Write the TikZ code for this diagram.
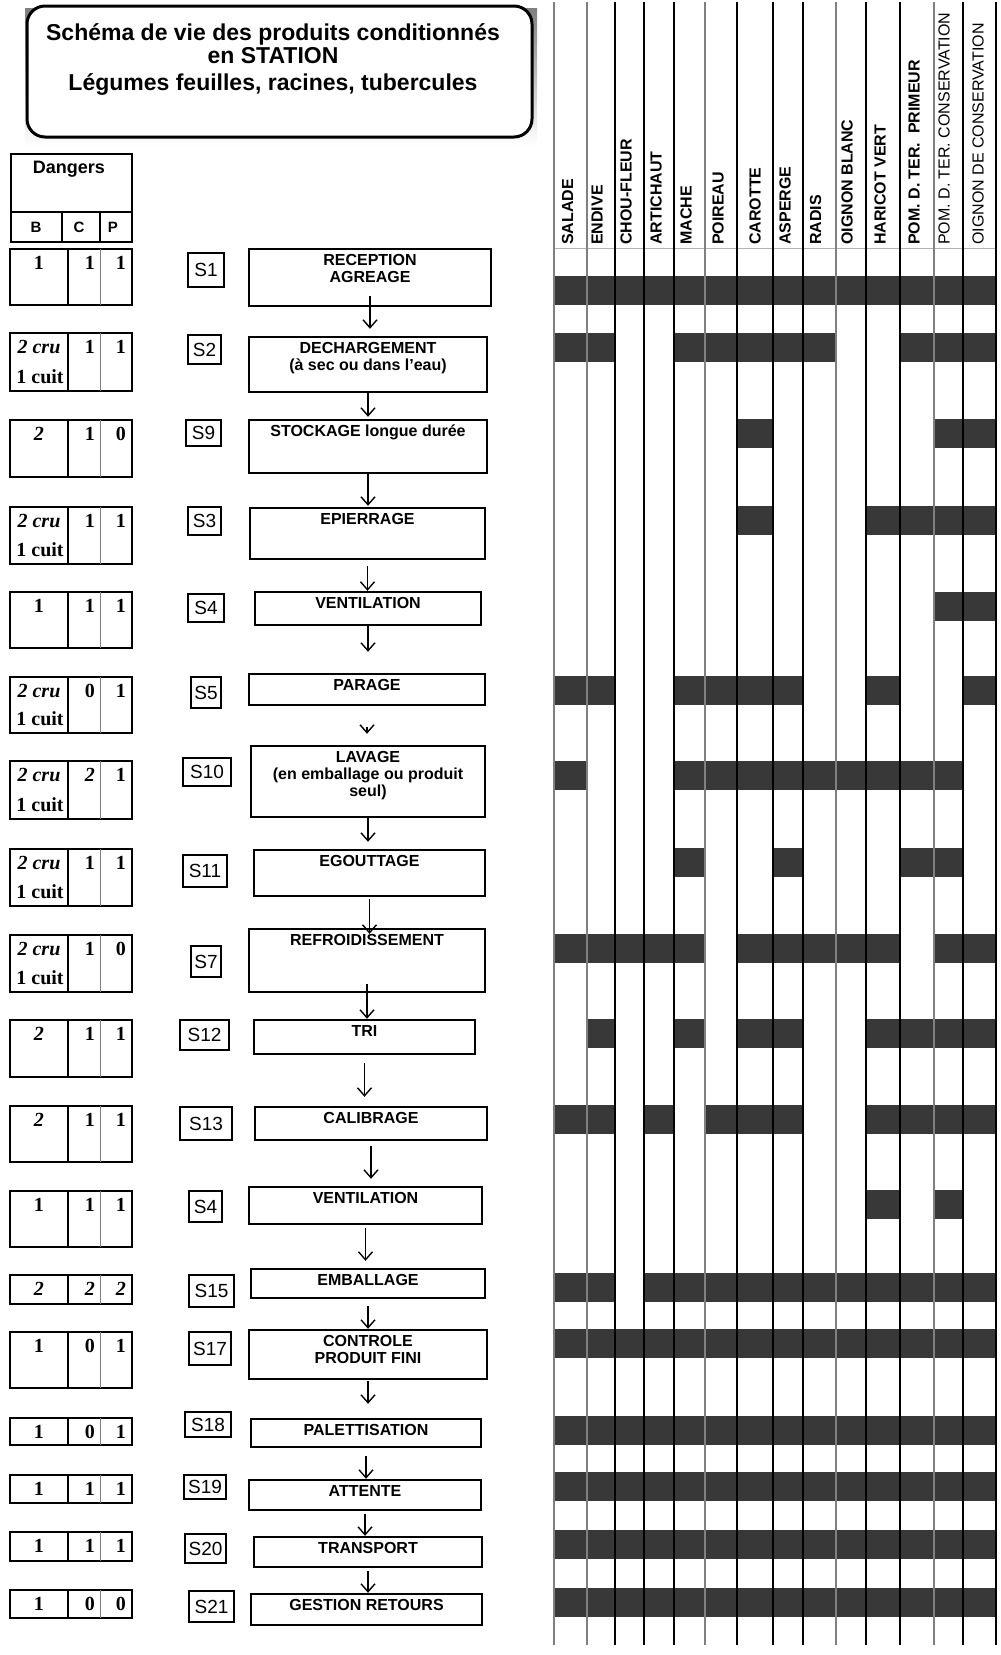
\documentclass[tikz,border=0pt]{standalone}
\usepackage{fontspec}
\setmainfont{Liberation Serif}
\setsansfont{Liberation Sans}
\usetikzlibrary{arrows.meta}
\definecolor{barfill}{HTML}{383838}
\definecolor{shade}{HTML}{DDDDDD}

\begin{document}
\begin{tikzpicture}[x=1pt, y=-1pt,
  >={Straight Barb[length=8pt,width=14pt]},
  procbox/.style={draw, line width=2.4, inner sep=0},
  proctext/.style={anchor=north, yshift=-6, align=center, inner sep=0, font=\sffamily\bfseries\fontsize{16}{17}\selectfont},
  steplabel/.style={draw, line width=2, inner sep=0, font=\sffamily\fontsize{19}{19}\selectfont},
  flow/.style={->, line width=1.4},
  num/.style={inner sep=0, font=\rmfamily\bfseries\fontsize{20}{20}\selectfont},
  bcp/.style={inner sep=0, font=\sffamily\bfseries\fontsize{15}{15}\selectfont},
  collabel/.style={rotate=90, anchor=west, inner sep=0, font=\sffamily\bfseries\fontsize{16}{16}\selectfont},
  title/.style={anchor=north, align=center, inner sep=0, font=\sffamily\bfseries\fontsize{23}{23.5}\selectfont},
  bar/.style={fill=barfill}]
   \useasboundingbox (0,0) rectangle (1001,1655);

   % titre
   \fill[shade] (25,8) rectangle (537,145);
   \draw[line width=3, rounded corners=18, fill=white] (27,6) rectangle (532,137);
   \node[title] (titre) at (273,23) {Schéma de vie des produits conditionnés\\en STATION\\[3.5pt]Légumes feuilles, racines, tubercules};

   % dangers
   \draw[line width=2] (11,154) rectangle (132,242);
   \draw[line width=1.5] (11,212) -- (132,212);
   \draw[line width=1.5] (62,212) -- (62,242);
   \draw[line width=1.5] (100,212) -- (100,242);
   \node[inner sep=0, font=\sffamily\bfseries\fontsize{18}{18}\selectfont] (dangers) at (69,169) {Dangers};
   \node[bcp] (hb) at (36,227) {B};
   \node[bcp] (hc) at (79,227) {C};
   \node[bcp] (hp) at (113,227) {P};

   \foreach \t/\b/\bt/\bb/\vc/\vp [count=\i] in {
     249/305/1//1/1,
     333/391/{\textit{2 cru}}/1 cuit/1/1,
     420/477/{\textit{2}}//1/0,
     507/564/{\textit{2 cru}}/1 cuit/1/1,
     592/648/1//1/1,
     677/733/{\textit{2 cru}}/1 cuit/0/1,
     761/819/{\textit{2 cru}}/1 cuit/{\textit{2}}/1,
     849/906/{\textit{2 cru}}/1 cuit/1/1,
     935/992/{\textit{2 cru}}/1 cuit/1/0,
     1020/1077/{\textit{2}}//1/1,
     1106/1162/{\textit{2}}//1/1,
     1191/1247/1//1/1,
     1275/1304/{\textit{2}}//{\textit{2}}/{\textit{2}},
     1332/1388/1//0/1,
     1418/1445/1//0/1,
     1475/1503/1//1/1,
     1532/1561/1//1/1,
     1590/1618/1//0/0}{
     \draw[line width=1.6] (10,\t) rectangle (132,\b);
     \draw[line width=1.8] (68,\t) -- (68,\b);
     \draw[gray, line width=1] (100,\t) -- (100,\b);
     \node[num] (b\i) at (39,\t+14) {\bt};
     \node[num] (bb\i) at (40,\b-14) {\bb};
     \node[num, anchor=east] (c\i) at (95,\t+14) {\vc};
     \node[num, anchor=east] (p\i) at (126,\t+14) {\vp};
   }

   % etapes
   \node[steplabel, minimum width=36, minimum height=34] (s1) at (206,270) {S1};
   \node[steplabel, minimum width=33, minimum height=29] (s2) at (204.5,349.5) {S2};
   \node[steplabel, minimum width=35, minimum height=26] (s9) at (203.5,433) {S9};
   \node[steplabel, minimum width=33, minimum height=28] (s3) at (204.5,521) {S3};
   \node[steplabel, minimum width=36, minimum height=28] (s4a) at (206,608) {S4};
   \node[steplabel, minimum width=30, minimum height=31] (s5) at (206,692.5) {S5};
   \node[steplabel, minimum width=48, minimum height=28] (s10) at (207,772) {S10};
   \node[steplabel, minimum width=44, minimum height=32] (s11) at (205,871) {S11};
   \node[steplabel, minimum width=30, minimum height=31] (s7) at (206,961.5) {S7};
   \node[steplabel, minimum width=49, minimum height=30] (s12) at (204.5,1035) {S12};
   \node[steplabel, minimum width=52, minimum height=33] (s13) at (206,1123.5) {S13};
   \node[steplabel, minimum width=33, minimum height=31] (s4b) at (205.5,1206.5) {S4};
   \node[steplabel, minimum width=45, minimum height=32] (s15) at (211.5,1291) {S15};
   \node[steplabel, minimum width=42, minimum height=33] (s17) at (210,1348.5) {S17};
   \node[steplabel, minimum width=46, minimum height=25] (s18) at (208,1424.5) {S18};
   \node[steplabel, minimum width=42, minimum height=24] (s19) at (205,1487) {S19};
   \node[steplabel, minimum width=41, minimum height=29] (s20) at (205.5,1548.5) {S20};
   \node[steplabel, minimum width=45, minimum height=31] (s21) at (211.5,1606.5) {S21};

   \node[procbox, minimum width=242, minimum height=57] (rec) at (370,277.5) {};
   \node[procbox, minimum width=238, minimum height=55] (dech) at (368,364.5) {};
   \node[procbox, minimum width=238, minimum height=53] (stock) at (368,446.5) {};
   \node[procbox, minimum width=235, minimum height=51] (epi) at (367.5,533.5) {};
   \node[procbox, minimum width=226, minimum height=33] (venta) at (368,608.5) {};
   \node[procbox, minimum width=236, minimum height=31] (par) at (367,689.5) {};
   \node[procbox, minimum width=234, minimum height=71] (lav) at (368,781.5) {};
   \node[procbox, minimum width=231, minimum height=46] (ego) at (369.5,873) {};
   \node[procbox, minimum width=236, minimum height=63] (refr) at (367,960.5) {};
   \node[procbox, minimum width=221, minimum height=34] (tri) at (364.5,1037) {};
   \node[procbox, minimum width=232, minimum height=33] (cal) at (371,1123.5) {};
   \node[procbox, minimum width=233, minimum height=37] (ventb) at (365.5,1205.5) {};
   \node[procbox, minimum width=234, minimum height=29] (emb) at (368,1283.5) {};
   \node[procbox, minimum width=238, minimum height=49] (ctrl) at (368,1354.5) {};
   \node[procbox, minimum width=230, minimum height=28] (pal) at (366,1433) {};
   \node[procbox, minimum width=232, minimum height=30] (att) at (365,1495) {};
   \node[procbox, minimum width=228, minimum height=30] (trans) at (368,1552) {};
   \node[procbox, minimum width=231, minimum height=31] (gest) at (366.5,1609.5) {};

   \node[proctext] (recT) at (rec.north) {RECEPTION\\AGREAGE};
   \node[proctext] (dechT) at (dech.north) {DECHARGEMENT\\(à sec ou dans l'eau)};
   \node[proctext] (stockT) at (stock.north) {STOCKAGE longue durée};
   \node[proctext] (epiT) at (epi.north) {EPIERRAGE};
   \node[proctext] (ventaT) at (venta.north) {VENTILATION};
   \node[proctext] (parT) at (par.north) {PARAGE};
   \node[proctext] (lavT) at (lav.north) {LAVAGE\\(en emballage ou produit\\seul)};
   \node[proctext] (egoT) at (ego.north) {EGOUTTAGE};
   \node[proctext] (refrT) at (refr.north) {REFROIDISSEMENT};
   \node[proctext] (triT) at (tri.north) {TRI};
   \node[proctext] (calT) at (cal.north) {CALIBRAGE};
   \node[proctext] (ventbT) at (ventb.north) {VENTILATION};
   \node[proctext] (embT) at (emb.north) {EMBALLAGE};
   \node[proctext] (ctrlT) at (ctrl.north) {CONTROLE\\PRODUIT FINI};
   \node[proctext] (palT) at (pal.north) {PALETTISATION};
   \node[proctext] (attT) at (att.north) {ATTENTE};
   \node[proctext] (transT) at (trans.north) {TRANSPORT};
   \node[proctext] (gestT) at (gest.north) {GESTION RETOURS};

   \foreach \a/\b/\s/\e in {rec/dech/-11/7, dech/stock/0/2, stock/epi/0/1, epi/venta/6/0,
       venta/par/0/21, par/lav/21/11, lav/ego/0/7, ego/refr/2/-6, refr/tri/-9/0,
       tri/cal/8/9, cal/ventb/5/7, ventb/emb/3/7, emb/ctrl/7/0, ctrl/pal/1/14,
       pal/att/8/0, att/trans/3/0, trans/gest/3/0}
     \draw[flow, shorten <=\s, shorten >=\e] (\a.south) -- (\a.south |- \b.north);

   % tableau des produits
   \foreach \y/\a/\b in {276/554/996,
       333/554/615, 333/674/836, 333/900/996,
       419/737/773, 419/934/996,
       506/737/773, 506/866/996,
       592/934/996,
       676/554/615, 676/674/803, 676/866/900, 676/963/996,
       761/554/587, 761/674/963,
       848/674/705, 848/773/803, 848/900/963,
       934/554/705, 934/737/900, 934/934/996,
       1019/587/615, 1019/674/705, 1019/737/803, 1019/866/996,
       1105/554/615, 1105/644/674, 1105/705/803, 1105/866/996,
       1190/866/900, 1190/934/963,
       1273/554/615, 1273/644/996,
       1329/554/996, 1416/554/996, 1472/554/996, 1530/554/996, 1588/554/996}
     \fill[bar] (\a,\y) rectangle (\b,\y+29);
   \draw[gray!60, line width=1] (554,248) -- (996,248);
   \foreach \x/\c in {554/gray, 587/gray, 615/black, 644/black, 674/black, 705/gray, 737/black,
       773/black, 803/black, 836/gray, 866/black, 900/black, 934/gray, 963/black, 996/black}
     \draw[\c, line width=1.5] (\x,2) -- (\x,1645);

   \foreach \x/\txt [count=\i] in {567.5/SALADE, 597/ENDIVE, 626/CHOU-FLEUR, 656/ARTICHAUT,
       686/MACHE, 718/POIREAU, 755/CAROTTE, 785/ASPERGE, 815.5/RADIS, 847/OIGNON BLANC,
       880/HARICOT VERT, 914/POM. D. TER.\ \ PRIMEUR}
     \node[collabel] (col\i) at (\x,245) {\txt};
   \node[collabel, font=\sffamily\fontsize{16}{16}\selectfont] (col13) at (944,245) {POM. D. TER. CONSERVATION};
   \node[collabel, font=\sffamily\fontsize{16}{16}\selectfont] (col14) at (978,245) {OIGNON DE CONSERVATION};
\end{tikzpicture}
\end{document}
